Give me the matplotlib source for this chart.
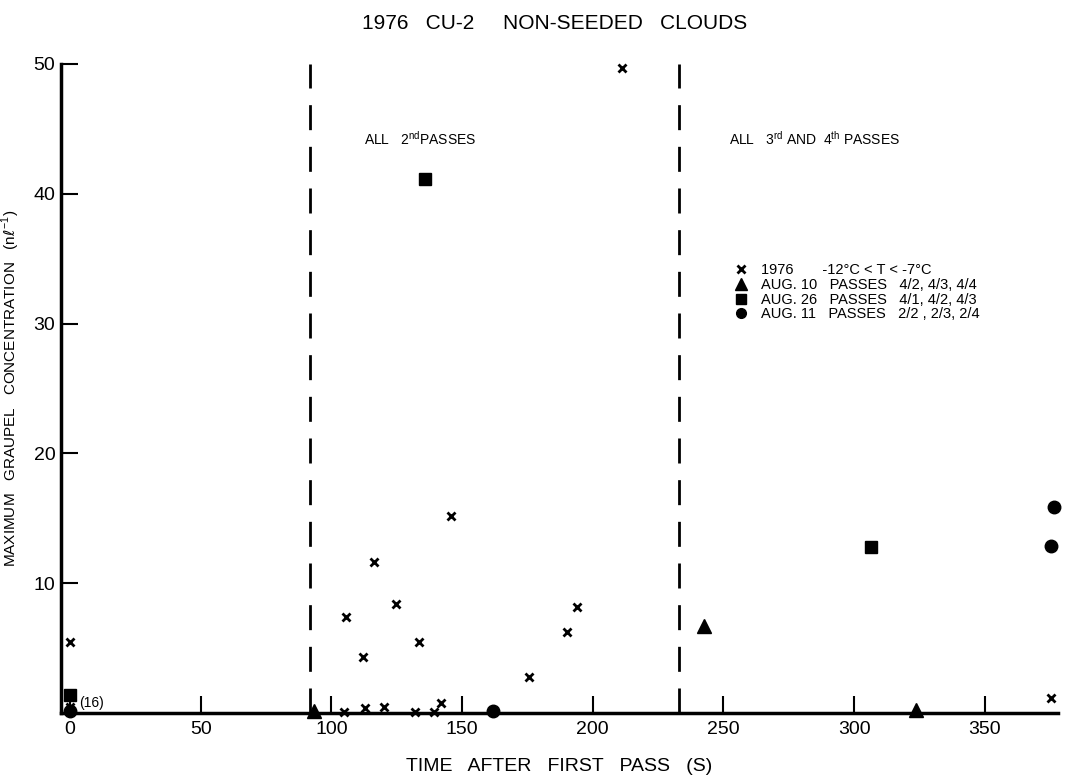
import matplotlib.pyplot as plt
from matplotlib.lines import Line2D

plt.rcParams['font.family'] = ['Liberation Sans Narrow', 'Liberation Sans', 'DejaVu Sans']
plt.rcParams['mathtext.fontset'] = 'custom'
plt.rcParams['mathtext.rm'] = 'Liberation Sans'

# data
x_time = [0, 0, 211, 145.9, 116.4, 124.7, 105.5, 133.6, 111.9, 175.6, 190, 194.1,
          142.1, 120.1, 113, 104.7, 132, 139.3, 375.2]
x_conc = [5.5, 0.5, 49.7, 15.2, 11.6, 8.4, 7.4, 5.5, 4.3, 2.8, 6.25, 8.2,
          0.8, 0.5, 0.4, 0.1, 0.1, 0.1, 1.15]

aug10_time = [93.5, 242.4, 323.8]
aug10_conc = [0.15, 6.7, 0.2]

aug26_time = [0, 135.9, 306.6]
aug26_conc = [1.4, 41.1, 12.8]

aug11_time = [0, 161.8, 375.3, 376.3]
aug11_conc = [0.15, 0.15, 12.9, 15.9]

pass_bounds = [91.6, 232.8]
xticks = [0, 50, 100, 150, 200, 250, 300, 350]
yticks = [10, 20, 30, 40, 50]

fig = plt.figure(figsize=(10.66, 7.8), dpi=100)
ax = fig.add_axes([0.0572, 0.0859, 0.9353, 0.8321])

ax.plot(x_time, x_conc, linestyle='none', marker='x', color='black',
        markersize=6, markeredgewidth=2, clip_on=False)
ax.plot(aug10_time, aug10_conc, linestyle='none', marker='^', color='black',
        markersize=10, clip_on=False)
ax.plot(aug26_time, aug26_conc, linestyle='none', marker='s', color='black',
        markersize=9, clip_on=False)
ax.plot(aug11_time, aug11_conc, linestyle='none', marker='o', color='black',
        markersize=9, clip_on=False)

for b in pass_bounds:
    ax.axvline(b, color='black', linewidth=2, dashes=(9, 6))

ax.text(3.5, 0.75, '(16)', fontsize=10, va='center', ha='left')
ax.text(112.6, 44.2, 'ALL   2$^{\\rm nd}$PASSES', fontsize=10, va='center')
ax.text(252, 44.2, 'ALL   3$^{\\rm rd}$ AND  4$^{\\rm th}$ PASSES', fontsize=10, va='center')

ax.set_xlim(-3.5, 378)
ax.set_ylim(0, 50)
ax.set_xticks(xticks)
ax.set_yticks(yticks)
ax.tick_params(direction='in', length=12, width=1.5, labelsize=14, pad=4)
ax.tick_params(axis='x', pad=6)
for s in ['top', 'right']:
    ax.spines[s].set_visible(False)
for s in ['left', 'bottom']:
    ax.spines[s].set_linewidth(2.5)

ax.set_xlabel('TIME   AFTER   FIRST   PASS   (S)', fontsize=14, labelpad=14)
ax.set_ylabel('MAXIMUM   GRAUPEL   CONCENTRATION   (n$\\ell^{-1}$)', fontsize=11, labelpad=8)
fig.suptitle('1976   CU-2     NON-SEEDED   CLOUDS', fontsize=15, x=0.52, y=0.982)

handles = [
    Line2D([], [], linestyle='none', marker='x', color='black', markersize=6, markeredgewidth=2),
    Line2D([], [], linestyle='none', marker='^', color='black', markersize=8),
    Line2D([], [], linestyle='none', marker='s', color='black', markersize=7),
    Line2D([], [], linestyle='none', marker='o', color='black', markersize=7),
]
labels = [
    '1976       -12°C < T < -7°C',
    'AUG. 10   PASSES   4/2, 4/3, 4/4',
    'AUG. 26   PASSES   4/1, 4/2, 4/3',
    'AUG. 11   PASSES   2/2 , 2/3, 2/4',
]
ax.legend(handles, labels, loc='upper left', bbox_to_anchor=(725 / 1066, 1 - 256 / 780),
          bbox_transform=fig.transFigure, frameon=False, fontsize=10.5,
          handletextpad=0.8, labelspacing=0.05, handlelength=1.2, borderpad=0)

fig.savefig('out.png', dpi=100)
